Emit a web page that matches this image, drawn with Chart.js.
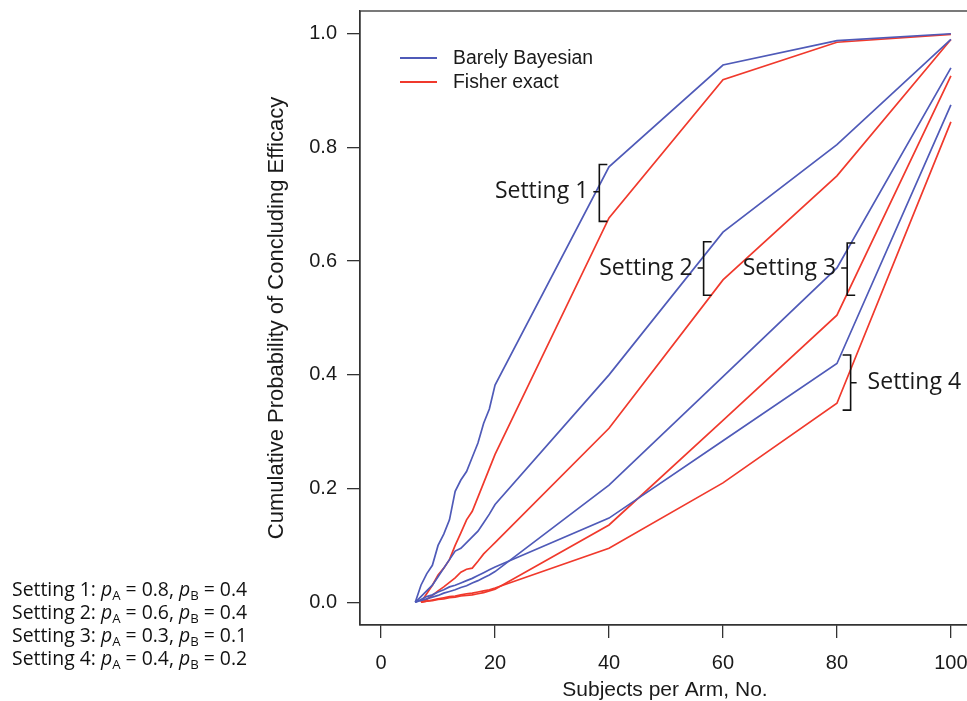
<!DOCTYPE html>
<html><head><meta charset="utf-8">
<script src="https://cdn.jsdelivr.net/npm/chart.js@4"></script>
<style>
html,body{margin:0;padding:0;background:#fff;width:967px;height:701px;overflow:hidden;}
#wrap{position:relative;width:980px;height:701px;}
canvas{display:block}
#notes{position:absolute;left:12px;top:577px;font-family:'Open Sans',sans-serif;font-size:19.4px;color:#111;white-space:nowrap;line-height:23px}
#notes i{font-style:italic}
#notes sub{font-size:0.68em;vertical-align:-0.3em;line-height:0;font-style:normal}
</style></head>
<body><div id="wrap"><canvas id="c" width="980" height="701"></canvas>
<div id="notes"></div></div>
<script>
// ---- data ----
const nValues = [6,7,8,9,10,11,12,13,14,15,16,17,18,19,20,40,60,80,100];
const bb1 = [0.0,0.03,0.05,0.065,0.10,0.12,0.145,0.195,0.215,0.23,0.255,0.28,0.315,0.34,0.382,0.766,0.945,0.988,1.0];
const fe1 = [null,0.0,0.015,0.03,0.048,0.06,0.075,0.10,0.122,0.145,0.16,0.185,0.21,0.235,0.26,0.676,0.919,0.985,0.999];
const bb2 = [0.0,0.01,0.02,0.03,0.045,0.06,0.075,0.09,0.095,0.105,0.115,0.125,0.14,0.155,0.172,0.40,0.651,0.805,0.99];
const fe2 = [null,0.0,0.005,0.012,0.02,0.027,0.035,0.043,0.053,0.058,0.06,0.072,0.085,0.095,0.105,0.306,0.567,0.75,0.99];
const bb3 = [0.0,0.003,0.006,0.009,0.012,0.016,0.019,0.022,0.026,0.029,0.034,0.038,0.043,0.048,0.054,0.206,0.397,0.588,0.94];
const fe3 = [null,0.0,0.002,0.003,0.005,0.006,0.008,0.009,0.011,0.012,0.013,0.015,0.017,0.02,0.023,0.136,0.32,0.505,0.926];
const bb4 = [0.0,0.005,0.01,0.013,0.018,0.022,0.027,0.03,0.034,0.038,0.042,0.047,0.052,0.057,0.062,0.148,0.284,0.42,0.875];
const fe4 = [null,0.0,0.002,0.004,0.006,0.008,0.01,0.011,0.013,0.015,0.016,0.018,0.02,0.022,0.025,0.095,0.21,0.35,0.845];
const xTickValues = [0,20,40,60,80,100];
const yTickValues = [0,0.2,0.4,0.6,0.8,1.0];
const seriesNames = ['Barely Bayesian','Fisher exact'];
const settingLabels = ['Setting 1','Setting 2','Setting 3','Setting 4'];
const settingPA = ['0.8','0.6','0.3','0.4'];
const settingPB = ['0.4','0.4','0.1','0.2'];
const xTitle = 'Subjects per Arm, No.';
const yTitle = 'Cumulative Probability of Concluding Efficacy';

// ---- styles / layout ----
const BLUE = '#4f5ab8', RED = '#f0392c', INK = '#1a1a1a';
const toPts = arr => nValues.map((n,i)=>({x:n,y:arr[i]})).filter(p=>p.y!==null);
const mk = (arr,col,name)=>({label:name,data:toPts(arr),borderColor:col,backgroundColor:col,borderWidth:1.7,pointRadius:0,tension:0,fill:false});
const datasets = [
  mk(bb1,BLUE,seriesNames[0]), mk(bb2,BLUE,seriesNames[0]), mk(bb3,BLUE,seriesNames[0]), mk(bb4,BLUE,seriesNames[0]),
  mk(fe1,RED,seriesNames[1]), mk(fe2,RED,seriesNames[1]), mk(fe3,RED,seriesNames[1]), mk(fe4,RED,seriesNames[1])
];

// brace annotations: anchor in data units
const braces = [
  {x:38.3, top:0.77, bot:0.67, mid:0.722, dir:-1},
  {x:56.6, top:0.634, bot:0.54, mid:0.588, dir:-1},
  {x:81.8, top:0.632, bot:0.54, mid:0.588, dir:-1},
  {x:82.4, top:0.435, bot:0.338, mid:0.386, dir:1}
];

const decor = {
  id:'decor',
  afterDatasetsDraw(chart){
    const {ctx, chartArea:a, scales:{x,y}} = chart;
    ctx.save();
    // box
    ctx.strokeStyle='#333'; ctx.lineWidth=1.3;
    ctx.strokeRect(a.left, a.top, a.right-a.left, a.bottom-a.top);
    // legend
    ctx.lineWidth=1.8;
    [[BLUE,58],[RED,82]].forEach(([c,yy],i)=>{
      ctx.strokeStyle=c; ctx.beginPath(); ctx.moveTo(400,yy); ctx.lineTo(437,yy); ctx.stroke();
      ctx.fillStyle=INK; ctx.font='19.4px "Liberation Sans", Arial, sans-serif';
      ctx.textBaseline='middle'; ctx.textAlign='left';
      ctx.fillText(seriesNames[i], 453, yy+1);
    });
    // braces
    ctx.strokeStyle='#111'; ctx.lineWidth=1.6;
    ctx.font='23px "Open Sans", sans-serif'; ctx.fillStyle=INK; ctx.textBaseline='middle';
    braces.forEach((b,i)=>{
      const px=x.getPixelForValue(b.x), t=y.getPixelForValue(b.top), bo=y.getPixelForValue(b.bot), m=y.getPixelForValue(b.mid);
      const s = -b.dir; // serif direction
      ctx.beginPath();
      ctx.moveTo(px+8*s,t); ctx.lineTo(px,t); ctx.lineTo(px,bo); ctx.lineTo(px+8*s,bo);
      ctx.moveTo(px,m); ctx.lineTo(px+6*b.dir,m);
      ctx.stroke();
      if(b.dir<0){ ctx.textAlign='right'; ctx.fillText(settingLabels[i], px-11, m); }
      else { ctx.textAlign='left'; ctx.fillText(settingLabels[i], px+17, m); }
    });
    ctx.restore();
  }
};

new Chart(document.getElementById('c'), {
  type:'line',
  data:{datasets},
  options:{
    responsive:false, animation:false, devicePixelRatio:1,
    layout:{padding:{left:264,top:11,right:10,bottom:0}},
    plugins:{legend:{display:false},tooltip:{enabled:false}},
    scales:{
      x:{type:'linear',min:-3.7,max:103.35,
        afterBuildTicks:s=>{s.ticks=xTickValues.map(v=>({value:v}));},
        afterFit:s=>{s.height=76; s.paddingLeft=0; s.paddingRight=0;},
        ticks:{font:{family:'"Liberation Sans", Arial, sans-serif',size:20},color:INK,padding:13,maxRotation:0,autoSkip:false},
        grid:{drawOnChartArea:false,tickLength:13,color:'#333',lineWidth:1.3},
        border:{display:true,color:'#333',width:1.3},
        title:{display:true,text:xTitle,font:{family:'"Liberation Sans", Arial, sans-serif',size:21,lineHeight:1.0},color:INK,padding:{top:0,bottom:0}}
      },
      y:{type:'linear',min:-0.04,max:1.04,
        afterBuildTicks:s=>{s.ticks=yTickValues.map(v=>({value:v}));},
        afterFit:s=>{s.width=96; s.paddingTop=0; s.paddingBottom=0;},
        ticks:{font:{family:'"Liberation Sans", Arial, sans-serif',size:20},color:INK,padding:10,callback:v=>Number(v).toFixed(1),autoSkip:false},
        grid:{drawOnChartArea:false,tickLength:13,color:'#333',lineWidth:1.3},
        border:{display:true,color:'#333',width:1.3},
        title:{display:true,text:yTitle,font:{family:'"Liberation Sans", Arial, sans-serif',size:22},color:INK,padding:{top:0,bottom:0}}
      }
    }
  },
  plugins:[decor]
});

// settings key (bottom-left)
document.getElementById('notes').innerHTML = settingLabels.map((s,i)=>
  `<div>${s}: <i>p</i><sub>A</sub> = ${settingPA[i]}, <i>p</i><sub>B</sub> = ${settingPB[i]}</div>`).join('');
</script>
</body></html>
